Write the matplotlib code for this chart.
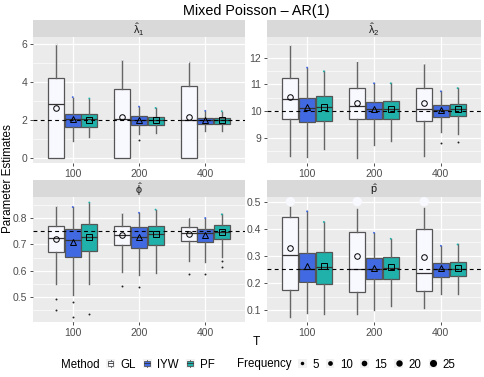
import numpy as np
import matplotlib
matplotlib.use("Agg")
import matplotlib.pyplot as plt
from matplotlib.legend_handler import HandlerBase
from matplotlib.patches import Rectangle, Patch
from matplotlib.lines import Line2D

plt.rcParams['font.family'] = ['Liberation Sans', 'DejaVu Sans']
plt.rcParams['mathtext.fontset'] = 'dejavusans'
plt.rcParams['mathtext.default'] = 'regular'

# ---------------- data ----------------
T_labels = ['100', '200', '400']
methods = ['GL', 'IYW', 'PF']
freq_breaks = [5, 10, 15, 20, 25]

# box stats per T: [lower whisker, Q1, median, Q3, upper whisker]
lam1_box = {
    'GL':  [[0.00, 0.00, 2.88, 4.25, 6.00], [0.00, 0.00, 2.05, 3.67, 5.19], [0.00, 0.00, 2.04, 3.79, 5.05]],
    'IYW': [[0.91, 1.65, 2.05, 2.32, 3.19], [1.26, 1.74, 2.04, 2.21, 2.70], [1.44, 1.82, 2.00, 2.14, 2.49]],
    'PF':  [[1.12, 1.65, 2.05, 2.35, 3.12], [1.33, 1.74, 2.00, 2.16, 2.63], [1.44, 1.83, 2.00, 2.12, 2.46]],
}
lam1_mean = {'GL': [2.63, 2.16, 2.15], 'IYW': [2.09, 2.03, 2.00], 'PF': [2.00, 2.00, 2.00]}
lam1_out = {'GL': [[], [], []], 'IYW': [[], [0.95], []], 'PF': [[], [], []]}
lam1_fy = {'GL': [6.00, 5.19, 5.05], 'IYW': [3.22, 2.72, 2.50], 'PF': [3.15, 2.65, 2.48]}
lam1_fn = {'GL': [1, 1, 1], 'IYW': [1, 1, 1], 'PF': [1, 1, 1]}

lam2_box = {
    'GL':  [[8.31, 9.69, 10.44, 11.24, 12.48], [8.25, 9.70, 10.18, 10.85, 11.85], [8.32, 9.63, 10.07, 10.88, 11.75]],
    'IYW': [[8.28, 9.58, 10.10, 10.50, 11.62], [8.71, 9.70, 10.07, 10.35, 11.04], [9.21, 9.79, 10.04, 10.22, 10.74]],
    'PF':  [[8.59, 9.63, 10.14, 10.55, 11.49], [8.86, 9.70, 10.07, 10.39, 11.04], [9.15, 9.80, 10.06, 10.26, 10.85]],
}
lam2_mean = {'GL': [10.51, 10.31, 10.30], 'IYW': [10.17, 10.08, 10.04], 'PF': [10.14, 10.07, 10.06]}
lam2_out = {'GL': [[], [], []], 'IYW': [[], [], [8.80]], 'PF': [[], [], [8.84]]}
lam2_fy = {'GL': [12.48, 11.88, 11.78], 'IYW': [11.63, 11.04, 10.74], 'PF': [11.49, 11.04, 10.86]}
lam2_fn = {'GL': [1, 1, 1], 'IYW': [1, 1, 1], 'PF': [1, 1, 1]}

phi_box = {
    'GL':  [[0.548, 0.670, 0.723, 0.768, 0.846], [0.594, 0.697, 0.737, 0.771, 0.820], [0.638, 0.711, 0.743, 0.766, 0.801]],
    'IYW': [[0.508, 0.652, 0.715, 0.758, 0.842], [0.584, 0.685, 0.727, 0.765, 0.820], [0.634, 0.710, 0.742, 0.760, 0.800]],
    'PF':  [[0.549, 0.675, 0.729, 0.777, 0.859], [0.590, 0.697, 0.739, 0.771, 0.832], [0.652, 0.722, 0.748, 0.773, 0.814]],
}
phi_mean = {'GL': [0.720, 0.735, 0.741], 'IYW': [0.709, 0.728, 0.737], 'PF': [0.727, 0.738, 0.747]}
phi_out = {'GL': [[0.494, 0.451], [0.543], [0.586]],
           'IYW': [[0.482, 0.425, 0.402], [0.539], [0.586]],
           'PF': [[0.435], [], [0.638, 0.615]]}
phi_fy = {'GL': [0.846, 0.820, 0.801], 'IYW': [0.842, 0.820, 0.800], 'PF': [0.859, 0.832, 0.814]}
phi_fn = {'GL': [1, 1, 1], 'IYW': [1, 1, 1], 'PF': [1, 1, 1]}

p_box = {
    'GL':  [[0.075, 0.175, 0.302, 0.445, 0.479], [0.084, 0.167, 0.252, 0.389, 0.472], [0.106, 0.170, 0.235, 0.400, 0.476]],
    'IYW': [[0.090, 0.202, 0.252, 0.312, 0.464], [0.101, 0.215, 0.250, 0.291, 0.385], [0.159, 0.223, 0.252, 0.273, 0.337]],
    'PF':  [[0.085, 0.195, 0.260, 0.315, 0.425], [0.115, 0.215, 0.254, 0.296, 0.363], [0.159, 0.225, 0.252, 0.277, 0.342]],
}
p_mean = {'GL': [0.329, 0.301, 0.296], 'IYW': [0.264, 0.256, 0.254], 'PF': [0.262, 0.257, 0.254]}
p_out = {'GL': [[], [], []], 'IYW': [[], [], []], 'PF': [[], [], []]}
p_fy = {'GL': [0.50, 0.50, 0.50], 'IYW': [0.464, 0.385, 0.337], 'PF': [0.425, 0.363, 0.342]}
p_fn = {'GL': [45, 45, 45], 'IYW': [1, 1, 1], 'PF': [1, 1, 1]}

true_vals = [2, 10, 0.75, 0.25]
strip_labels = [r'$\hat{\lambda}_1$', r'$\hat{\lambda}_2$', r'$\hat{\phi}$', r'$\hat{p}$']

# ---------------- style ----------------
fills = {'GL': '#F8F8FF', 'IYW': '#4169E1', 'PF': '#20B2AA'}
mean_mk = {'GL': 'o', 'IYW': '^', 'PF': 's'}
W, H = 485, 377


def diam_pt(n):
    px = 0.6 + 1.3 * np.sqrt(n)
    return px * 72 / 100


fig = plt.figure(figsize=(W / 100, H / 100), dpi=100)
fig.patch.set_facecolor('white')

panels = [
    dict(box=lam1_box, mean=lam1_mean, out=lam1_out, fy=lam1_fy, fn=lam1_fn,
         ylim=(-0.25, 6.39), major=[0, 2, 4, 6], minor=[1, 3, 5], fmt='{:g}',
         rect=(33, 37, 212, 126)),
    dict(box=lam2_box, mean=lam2_mean, out=lam2_out, fy=lam2_fy, fn=lam2_fn,
         ylim=(8.05, 12.78), major=[9, 10, 11, 12], minor=[8.5, 9.5, 10.5, 11.5, 12.5], fmt='{:g}',
         rect=(267, 37, 214, 126)),
    dict(box=phi_box, mean=phi_mean, out=phi_out, fy=phi_fy, fn=phi_fn,
         ylim=(0.405, 0.88), major=[0.5, 0.6, 0.7, 0.8], minor=[0.45, 0.55, 0.65, 0.75, 0.85], fmt='{:.1f}',
         rect=(33, 197, 212, 125)),
    dict(box=p_box, mean=p_mean, out=p_out, fy=p_fy, fn=p_fn,
         ylim=(0.056, 0.517), major=[0.1, 0.2, 0.3, 0.4, 0.5], minor=[0.15, 0.25, 0.35, 0.45], fmt='{:.1f}',
         rect=(267, 197, 214, 125)),
]

x_base = np.arange(1, len(T_labels) + 1)
for k, P in enumerate(panels):
    x0, y0, w, h = P['rect']
    ax = fig.add_axes([x0 / W, 1 - (y0 + h) / H, w / W, h / H])
    ax.set_facecolor('#EBEBEB')
    for s in ax.spines.values():
        s.set_visible(False)
    ax.set_xlim(0.4, 3.6)
    ax.set_ylim(*P['ylim'])
    for yv in P['minor']:
        ax.axhline(yv, color='white', lw=0.45, zorder=0.5)
    for yv in P['major']:
        ax.axhline(yv, color='white', lw=0.9, zorder=0.6)
    for xv in x_base:
        ax.axvline(xv, color='white', lw=0.9, zorder=0.6)
    ax.set_yticks(P['major'])
    ax.set_yticklabels([P['fmt'].format(v) for v in P['major']])
    ax.set_xticks(x_base)
    ax.set_xticklabels(T_labels)
    ax.tick_params(axis='both', length=2.5, width=0.6, color='#333333',
                   labelcolor='#4D4D4D', labelsize=7.5, pad=1.5)

    for j, m in enumerate(methods):
        stats = []
        for i in range(len(T_labels)):
            lo, q1, med, q3, hi = P['box'][m][i]
            stats.append(dict(whislo=lo, q1=q1, med=med, q3=q3, whishi=hi,
                              mean=P['mean'][m][i], fliers=P['out'][m][i]))
        pos = x_base + (j - 1) * 0.25
        ax.bxp(stats, positions=pos, widths=0.24, patch_artist=True, showcaps=False,
               showmeans=True, showfliers=True, manage_ticks=False,
               boxprops=dict(facecolor=fills[m], edgecolor='#555555', linewidth=0.9),
               medianprops=dict(color='#333333', linewidth=0.9),
               whiskerprops=dict(color='#666666', linewidth=1.0),
               meanprops=dict(marker=mean_mk[m], markerfacecolor='none',
                              markeredgecolor='black', markersize=4.0, markeredgewidth=0.7),
               flierprops=dict(marker='o', markersize=1.4, markerfacecolor='#222222',
                               markeredgecolor='none'))
        ax.scatter(pos, P['fy'][m], s=[diam_pt(n) ** 2 for n in P['fn'][m]],
                   color=fills[m], edgecolors='none', zorder=3)

    ax.axhline(true_vals[k], color='black', lw=0.8, ls=(0, (3.5, 3)), zorder=6)

    # strip
    sax = fig.add_axes([x0 / W, 1 - y0 / H, w / W, 17 / H])
    sax.set_facecolor('#D9D9D9')
    sax.set_xticks([])
    sax.set_yticks([])
    for s in sax.spines.values():
        s.set_visible(False)
    sax.text(0.5, 0.45, strip_labels[k], ha='center', va='center', fontsize=7.8,
             color='#1A1A1A', transform=sax.transAxes)

fig.text(256.5 / W, 1 - 15 / H, 'Mixed Poisson \u2013 AR(1)', ha='center', va='baseline',
         fontsize=10.4, color='black')
fig.text(256.5 / W, 1 - 345 / H, 'T', ha='center', va='baseline', fontsize=8.6, color='black')
fig.text(8 / W, 1 - 179 / H, 'Parameter Estimates', ha='center', va='center', rotation=90,
         fontsize=8.4, color='black')


# ---------------- legend ----------------
class KeyHandler(HandlerBase):
    def __init__(self, kind):
        super().__init__()
        self.kind = kind

    def create_artists(self, legend, orig_handle, xdescent, ydescent, width, height, fontsize, trans):
        s = min(width, height * 1.0)
        x0 = -xdescent + (width - s) / 2
        y0 = -ydescent + (height - s) / 2
        if self.kind == 'blank':
            return [Rectangle((x0, y0), s, s, facecolor='none', edgecolor='none', transform=trans)]
        arts = [Rectangle((x0, y0), s, s, facecolor='#F2F2F2', edgecolor='none', transform=trans)]
        if self.kind == 'box':
            fc = orig_handle.get_facecolor()
            arts.append(Line2D([x0 + 0.5 * s] * 2, [y0 + 0.05 * s, y0 + 0.95 * s], color='#6E6E6E',
                               lw=0.7, transform=trans))
            arts.append(Rectangle((x0 + 0.15 * s, y0 + 0.25 * s), 0.7 * s, 0.5 * s, facecolor=fc,
                                  edgecolor='#555555', lw=0.6, transform=trans))
            arts.append(Line2D([x0 + 0.15 * s, x0 + 0.85 * s], [y0 + 0.5 * s] * 2, color='#333333',
                               lw=0.6, transform=trans))
        else:
            ms = orig_handle.get_markersize()
            arts.append(Line2D([x0 + s / 2], [y0 + s / 2], marker='o', markersize=ms, color='black',
                               markeredgecolor='none', linestyle='none', transform=trans))
        return arts


blank1 = Line2D([], [], linestyle='none')
blank2 = Line2D([], [], linestyle='none')
handles = [blank1] + [Patch(facecolor=fills[m]) for m in methods] + [blank2] + \
          [Line2D([], [], marker='o', markersize=diam_pt(n), linestyle='none') for n in freq_breaks]
labels = ['Method'] + methods + ['Frequency'] + [str(n) for n in freq_breaks]
hmap = {blank1: KeyHandler('blank'), blank2: KeyHandler('blank')}
for hd in handles[1:4]:
    hmap[hd] = KeyHandler('box')
for hd in handles[5:]:
    hmap[hd] = KeyHandler('point')

leg = fig.legend(handles, labels, handler_map=hmap, ncol=len(handles), frameon=False,
                 loc='center', bbox_to_anchor=(251 / W, 1 - 364.5 / H), fontsize=8.3,
                 handlelength=0.75, handleheight=0.75, handletextpad=0.5, columnspacing=0.6,
                 borderpad=0.0, borderaxespad=0.0)

fig.savefig('out.png', dpi=100)
